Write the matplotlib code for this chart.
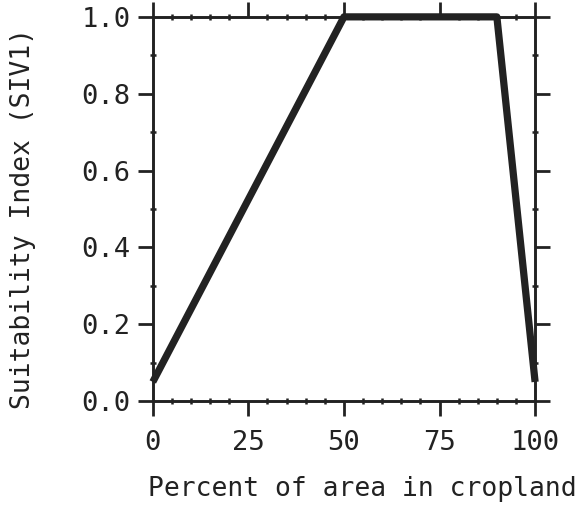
import matplotlib
matplotlib.use("Agg")
import matplotlib.pyplot as plt
from matplotlib.ticker import MultipleLocator

x_vals = [0, 50, 90, 100]
y_vals = [0.05, 1.0, 1.0, 0.05]
x_ticks = [0, 25, 50, 75, 100]
y_ticks = [0.0, 0.2, 0.4, 0.6, 0.8, 1.0]
x_label = "Percent of area in cropland"
y_label = "Suitability Index (SIV1)"

plt.rcParams['font.family'] = ['DejaVu Sans Mono']
ink = '#222222'
fs_tick = 19.5
fs_label = 19

fig = plt.figure(figsize=(5.81, 5.11), dpi=100)
ax = fig.add_axes([0.263, 0.215, 0.658, 0.752])
ax.plot(x_vals, y_vals, color=ink, lw=5.2, solid_capstyle='butt', clip_on=False, zorder=3)
ax.set_xlim(0, 100)
ax.set_ylim(0, 1.0)
ax.set_xticks(x_ticks)
ax.set_yticks(y_ticks)
ax.set_xticklabels([str(v) for v in x_ticks])
ax.set_yticklabels([f"{v:.1f}" for v in y_ticks])
ax.xaxis.set_minor_locator(MultipleLocator(5))
ax.yaxis.set_minor_locator(MultipleLocator(0.1))
ax.tick_params(which='major', direction='out', length=11, width=2, color=ink,
               top=True, right=True, labelsize=fs_tick, labelcolor=ink)
ax.tick_params(axis='x', which='major', pad=10)
ax.tick_params(axis='y', which='major', pad=5)
ax.tick_params(which='minor', direction='inout', length=5, width=1.8, color=ink,
               top=True, right=True)
for s in ax.spines.values():
    s.set_linewidth(2.1)
    s.set_color(ink)
ax.set_xlabel(x_label, fontsize=fs_label, color=ink)
ax.set_ylabel(y_label, fontsize=fs_label, color=ink)
ax.xaxis.set_label_coords(0.547, -0.195)
ax.yaxis.set_label_coords(-0.305, 0.475)
fig.savefig("out.png", dpi=100)
